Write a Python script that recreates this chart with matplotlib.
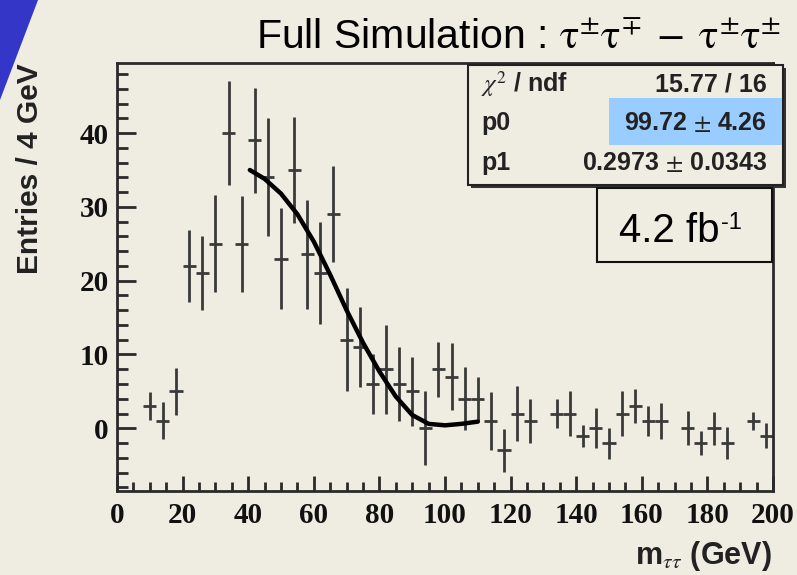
import numpy as np
import matplotlib
matplotlib.use("Agg")
import matplotlib.pyplot as plt
from matplotlib.patches import Rectangle, Polygon
from matplotlib.ticker import MultipleLocator

plt.rcParams['font.family'] = ['Liberation Sans', 'DejaVu Sans']
plt.rcParams['mathtext.fontset'] = 'stix'

# bin centres (4 GeV bins) and entries of the OS - SS difference
m_tautau = [10, 14, 18, 22, 26, 30, 34, 38, 42, 46, 50, 54, 58, 62, 66, 70, 74, 78,
            82, 86, 90, 94, 98, 102, 106, 110, 114, 118, 122, 126, 134, 138, 142,
            146, 150, 154, 158, 162, 166, 174, 178, 182, 186, 194, 198]
entries = [3, 1, 5, 22, 21, 25, 40, 25, 39, 34, 23, 35, 23.6, 21, 29, 12, 11, 6,
           8, 6, 5, 0, 8, 7, 4, 4, 1, -3, 2, 1, 2, 2, -1,
           0, -2, 2, 3, 1, 1, 0, -2, 0, -2, 1, -1]
errors = [1.9, 2.5, 3.2, 4.9, 5.0, 6.6, 7.1, 6.5, 7.1, 8.0, 6.9, 7.2, 7.4, 6.9, 6.5, 7.0, 5.4, 4.0,
          6.0, 5.0, 4.7, 5.0, 3.7, 4.5, 4.3, 3.0, 3.9, 2.9, 3.7, 3.0, 2.0, 3.0, 1.5,
          2.7, 2.1, 3.0, 2.3, 2.0, 2.4, 2.3, 1.6, 2.2, 2.2, 1.2, 1.7]
bin_half = 2.0

# fitted curve
fit_x = [40.5, 45, 50, 55, 60, 65, 70, 75, 80, 85, 90, 95, 100, 105, 110]
fit_y = [35.0, 33.8, 31.8, 29.0, 25.3, 20.8, 16.0, 11.6, 7.7, 4.3, 1.8, 0.6, 0.4, 0.6, 0.9]

stat_labels = [r'$\chi^{2}$ / ndf', 'p0', 'p1']
stat_values = ['15.77 / 16', '99.72 $\\pm$ 4.26', '0.2973 $\\pm$ 0.0343']

W, H = 797, 575
bg = '#EFECE2'
fig = plt.figure(figsize=(W / 100, H / 100), dpi=100, facecolor=bg)


def fx(px):
    return px / W


def fy(py):
    return 1 - py / H


# blue slide decoration in the corner
fig.patches.append(Polygon([[fx(0), fy(0)], [fx(38), fy(0)], [fx(0), fy(100)]],
                           closed=True, transform=fig.transFigure,
                           facecolor='#3436C8', edgecolor='none'))

ax = fig.add_axes([fx(117), fy(491), fx(773) - fx(117), fy(63) - fy(491)])
ax.set_facecolor('none')
ax.set_xlim(0, 200)
ax.set_ylim(-8.5, 49.5)

ax.errorbar(m_tautau, entries, yerr=errors, xerr=bin_half, fmt='none',
            ecolor='#3a3a3a', elinewidth=2.0, capsize=0)
ax.plot(fit_x, fit_y, color='black', lw=3.2, solid_capstyle='round')

for s in ax.spines.values():
    s.set_linewidth(2)
    s.set_color('#2a2a2a')

ax.xaxis.set_major_locator(MultipleLocator(20))
ax.xaxis.set_minor_locator(MultipleLocator(5))
ax.yaxis.set_major_locator(MultipleLocator(10))
ax.yaxis.set_minor_locator(MultipleLocator(2))
ax.tick_params(axis='both', which='both', direction='in', color='#2a2a2a',
               top=False, right=False)
ax.tick_params(axis='y', which='major', length=14, width=2, pad=6)
ax.tick_params(axis='y', which='minor', length=8, width=2)
ax.tick_params(axis='x', which='major', length=11, width=2, pad=8)
ax.tick_params(axis='x', which='minor', length=6.5, width=2)
ax.set_yticks([0, 10, 20, 30, 40])
for lab in ax.get_xticklabels() + ax.get_yticklabels():
    lab.set_fontfamily('Liberation Serif')
    lab.set_fontweight('bold')
    lab.set_fontsize(21)
    lab.set_color('#111111')

fig.text(fx(30), fy(63), 'Entries / 4 GeV', rotation=90, ha='center', va='top',
         fontsize=21.5, fontweight='bold', color='#222222')
fig.text(fx(772), fy(556), r'm$_{\tau\tau}$ (GeV)', ha='right', va='center',
         fontsize=22, fontweight='bold', color='#222222')

# title
fig.text(fx(781), fy(49),
         r'Full Simulation : $\mathrm{\tau^{\pm}\tau^{\mp}\;-\;\tau^{\pm}\tau^{\pm}}$',
         ha='right', va='baseline', fontsize=29.5, color='black')

# fit statistics box
fig.patches.append(Rectangle((fx(471), fy(188)), fx(783) - fx(468), fy(65) - fy(185),
                             transform=fig.transFigure, facecolor='#333333', edgecolor='none'))
fig.patches.append(Rectangle((fx(468), fy(185)), fx(783) - fx(468), fy(65) - fy(185),
                             transform=fig.transFigure, facecolor=bg, edgecolor='#222222', lw=1.5))
fig.patches.append(Rectangle((fx(609), fy(145)), fx(782) - fx(609), fy(98) - fy(145),
                             transform=fig.transFigure, facecolor='#99CCFF', edgecolor='none'))
rows_y = [84, 123, 163]
for lab, val, ry in zip(stat_labels, stat_values, rows_y):
    fig.text(fx(481), fy(ry), lab, ha='left', va='center', fontsize=18,
             fontweight='bold', color='#222222')
    fig.text(fx(767), fy(ry), val, ha='right', va='center', fontsize=18,
             fontweight='bold', color='#222222')

# luminosity box
fig.patches.append(Rectangle((fx(597), fy(262)), fx(772) - fx(597), fy(188) - fy(262),
                             transform=fig.transFigure, facecolor=bg, edgecolor='#111111', lw=1.5))
fig.text(fx(720), fy(242), '4.2 fb', ha='right', va='baseline',
         fontsize=29, color='black')
fig.text(fx(721), fy(229), '-1', ha='left', va='baseline',
         fontsize=17, color='black')

fig.savefig('out.png', dpi=100, facecolor=bg)
